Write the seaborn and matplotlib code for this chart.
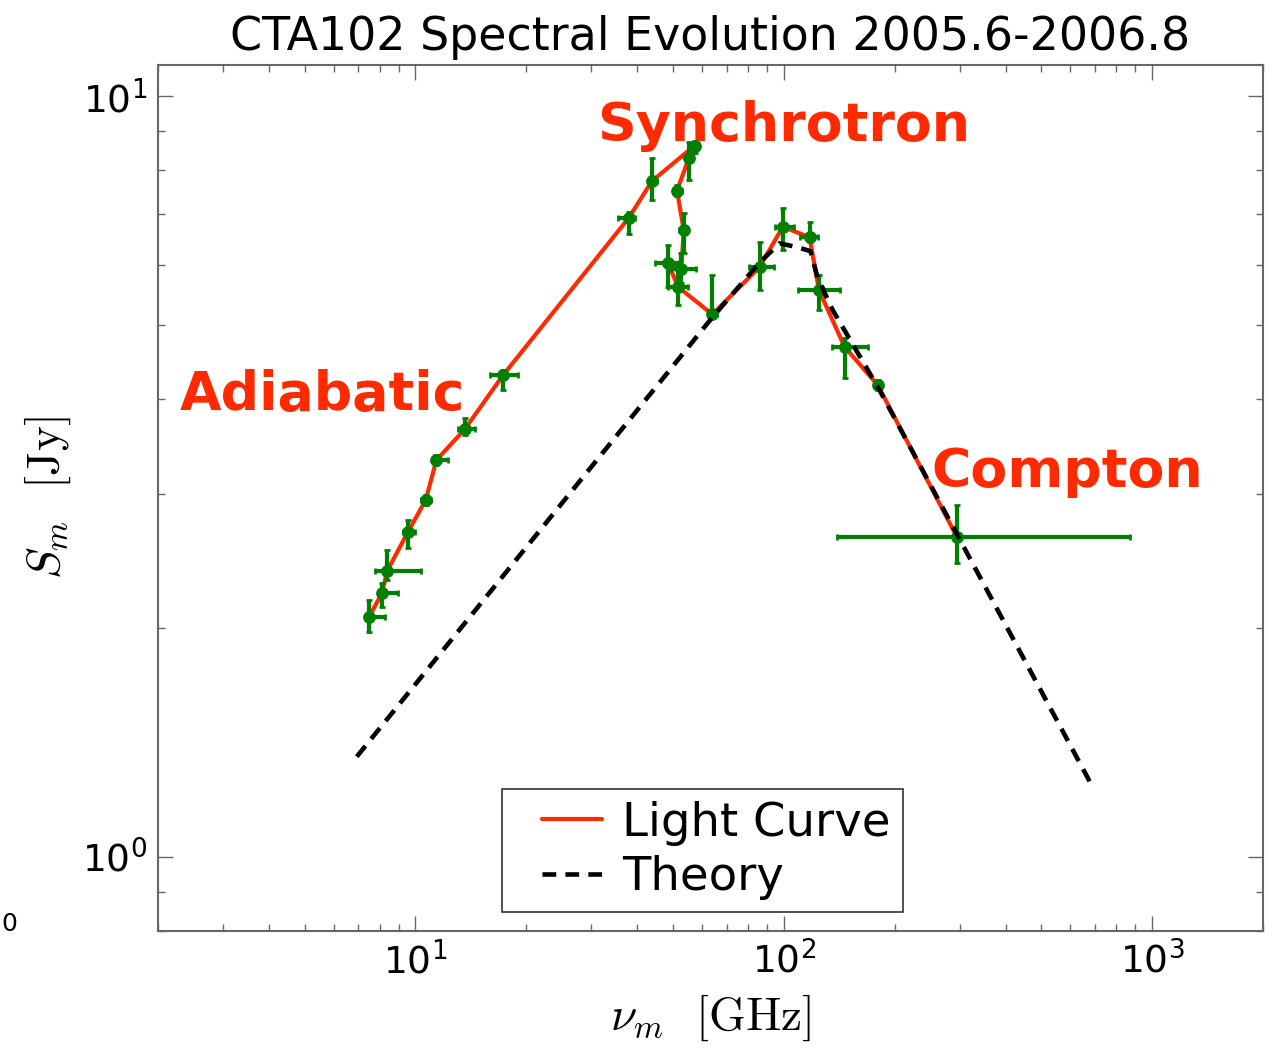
import numpy as np
import pandas as pd
import matplotlib
matplotlib.use("Agg")
import matplotlib.pyplot as plt
import seaborn as sns
from matplotlib.ticker import NullFormatter, LogLocator
from matplotlib.legend_handler import HandlerLine2D

# ---- data ----
freq = [7.48, 8.12, 8.38, 9.55, 10.66, 11.40, 13.61, 17.29, 37.99, 43.85,
        57.3, 55.2, 51.3, 53.5, 52.7, 48.5, 51.6, 64.0, 86.0, 99.4,
        117.5, 124.5, 146.2, 180.0, 294.9]
flux = [2.067, 2.226, 2.377, 2.678, 2.947, 3.325, 3.652, 4.30, 6.93, 7.74,
        8.62, 8.29, 7.52, 6.67, 5.94, 6.04, 5.62, 5.17, 5.97, 6.74,
        6.53, 5.57, 4.686, 4.173, 2.637]
freq_lo = [7.29, 7.91, 7.76, 9.24, 10.34, 11.07, 13.02, 15.91, 35.4, 42.7,
           55.9, 53.8, 49.9, 52.1, 49.5, 44.6, 48.4, 62.1, 80.4, 94.4,
           110.4, 109.0, 135.4, 175.3, 139.3]
freq_hi = [8.25, 8.97, 10.38, 9.96, 11.00, 12.24, 14.48, 18.95, 39.4, 45.2,
           58.7, 56.6, 52.8, 54.8, 57.9, 52.1, 54.8, 65.7, 93.8, 106.9,
           123.5, 141.7, 169.1, 184.3, 871.5]
flux_lo = [1.977, 2.132, 2.314, 2.549, 2.902, 3.276, 3.587, 4.11, 6.60, 7.30,
           8.44, 7.76, 7.39, 6.22, 5.68, 5.61, 5.32, 5.13, 5.56, 6.28,
           6.43, 5.24, 4.26, 4.11, 2.433]
flux_hi = [2.178, 2.293, 2.533, 2.774, 2.991, 3.376, 3.776, 4.366, 7.05, 8.29,
           8.75, 8.70, 7.66, 7.02, 6.22, 6.37, 6.03, 5.82, 6.43, 7.13,
           6.83, 5.82, 4.81, 4.24, 2.902]

theory_freq = [6.93, 63.7, 86.0, 97.4, 108.3, 118.2, 123.5, 135.7, 182.0, 684.2]
theory_flux = [1.355, 5.11, 6.05, 6.41, 6.34, 6.26, 5.78, 5.24, 4.11, 1.245]

title = "CTA102 Spectral Evolution 2005.6-2006.8"
series_names = ["Light Curve", "Theory"]
annotations = ["Synchrotron", "Adiabatic", "Compton"]

# ---- styling ----
sns.set_style("ticks")
plt.rcParams["font.family"] = ["DejaVu Sans"]
plt.rcParams["mathtext.fontset"] = "cm"
plt.rcParams["text.color"] = "black"
plt.rcParams["axes.labelcolor"] = "black"
plt.rcParams["xtick.labelcolor"] = "black"
plt.rcParams["ytick.labelcolor"] = "black"

RED = "#ff2a00"
GREEN = "#008000"
GRAY = "#666666"

fig = plt.figure(figsize=(12.72, 10.49), dpi=100)
ax = fig.add_axes([0.12421, 0.11277, 0.86871, 0.82526])
ax.set_xscale("log")
ax.set_yscale("log")

df = pd.DataFrame({"freq": freq, "flux": flux})
tdf = pd.DataFrame({"freq": theory_freq, "flux": theory_flux})

sns.lineplot(data=df, x="freq", y="flux", sort=False, estimator=None,
             color=RED, lw=3, label=series_names[0], ax=ax, zorder=2)

f = np.array(freq); s = np.array(flux)
xerr = [f - np.array(freq_lo), np.array(freq_hi) - f]
yerr = [s - np.array(flux_lo), np.array(flux_hi) - s]
ax.errorbar(f, s, xerr=xerr, yerr=yerr, fmt="none", ecolor=GREEN,
            elinewidth=3, capsize=2.5, capthick=2, zorder=3)
sns.scatterplot(data=df, x="freq", y="flux", color=GREEN, s=85,
                edgecolor=GREEN, linewidth=0, ax=ax, zorder=4, legend=False)

sns.lineplot(data=tdf, x="freq", y="flux", sort=False, estimator=None,
             color="black", lw=3.3, label=series_names[1], ax=ax, zorder=5)
ax.lines[-1].set_dashes((3, 2))

ax.set_xlim(2, 2000)
ax.set_ylim(0.8, 11)

ax.xaxis.set_major_locator(LogLocator(base=10, numticks=10))
ax.yaxis.set_major_locator(LogLocator(base=10, numticks=10))
ax.xaxis.set_minor_locator(LogLocator(base=10, subs=np.arange(2, 10), numticks=20))
ax.yaxis.set_minor_locator(LogLocator(base=10, subs=np.arange(2, 10), numticks=20))
ax.xaxis.set_minor_formatter(NullFormatter())
ax.yaxis.set_minor_formatter(NullFormatter())

ax.tick_params(which="both", direction="in", top=True, right=True,
               color=GRAY, labelsize=27)
ax.tick_params(which="major", length=11, width=1.0, pad=8)
ax.tick_params(which="minor", length=5, width=1.0)
for sp in ax.spines.values():
    sp.set_color(GRAY)
    sp.set_linewidth(1.5)

ax.set_xlabel(r"$\nu_m\;\;\,[\mathrm{GHz}]$", fontsize=34, labelpad=8)
ax.set_ylabel(r"$S_m\;\;\,[\mathrm{Jy}]$", fontsize=34, labelpad=6)
ax.set_title(title, fontsize=33, pad=11, color="black")

ax.text(31.2, 8.75, annotations[0], color=RED, fontsize=38.7, fontweight="bold",
        va="baseline", ha="left")
ax.text(2.293, 3.87, annotations[1], color=RED, fontsize=38.7, fontweight="bold",
        va="baseline", ha="left")
ax.text(251.8, 3.064, annotations[2], color=RED, fontsize=38.7, fontweight="bold",
        va="baseline", ha="left")

handles = [ax.lines[0], ax.lines[-1]]
hmap = {h: HandlerLine2D(xpad=0.6) for h in handles}
leg = ax.legend(handles=handles, labels=series_names, loc="upper left",
                bbox_to_anchor=(0.3113, 0.1637), borderaxespad=0,
                fontsize=33.5, handlelength=1.9, fancybox=False, framealpha=1,
                edgecolor="#333333", borderpad=0.25, labelspacing=0.2,
                handletextpad=0.44, handler_map=hmap)
leg.get_frame().set_linewidth(1.2)

fig.text(0.001, 0.119, "0", fontsize=18, ha="left", va="center")

fig.savefig("out.png", dpi=100)
